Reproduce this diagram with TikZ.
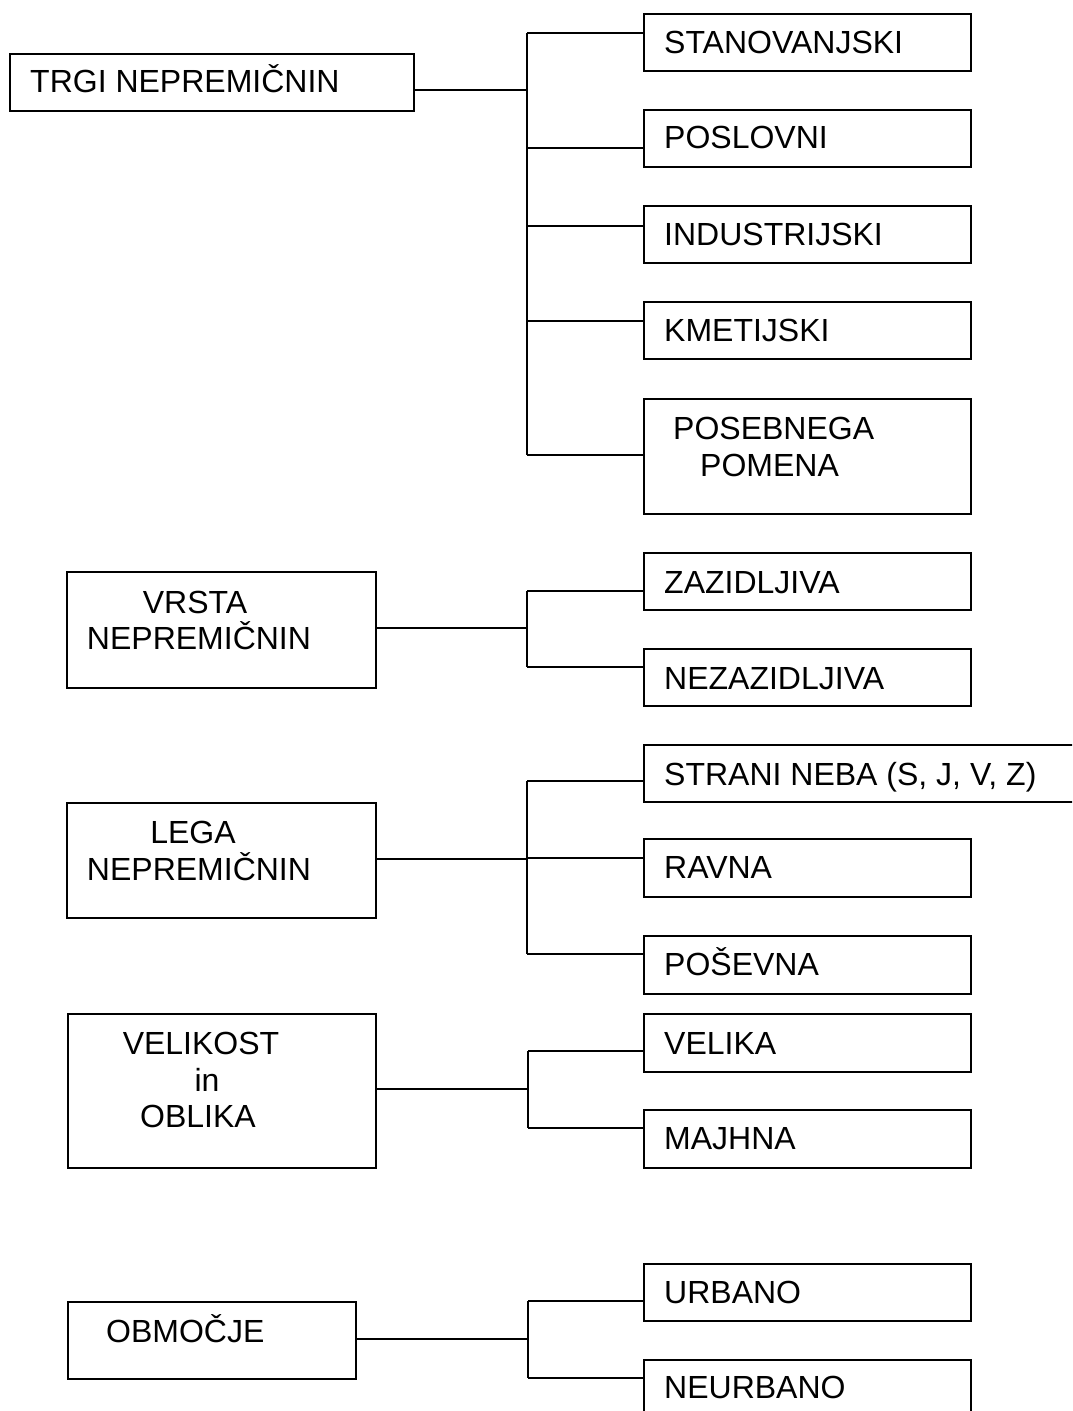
\documentclass[tikz,border=0pt]{standalone}
\usepackage{fontspec}
\setmainfont{Liberation Sans}
\newcommand\boxat[5]{%
  \node[box, anchor=north west, minimum width={#4-#2}, minimum height={#5-#3}] (#1) at (#2,#3) {};}
\begin{document}
\begin{tikzpicture}[x=1pt,y=-1pt,
  box/.style={draw, line width=1.5pt, inner sep=0pt},
  lbl/.style={inner sep=0pt, font=\fontsize{32}{37}\selectfont},
  wire/.style={line width=1.5pt}]
\fill[white] (0,0) rectangle (1072,1411);
\useasboundingbox (0,0) rectangle (1072,1411);
\clip (0,0) rectangle (1072,1411);

% category boxes on the left
\boxat{trgi}{9}{53}{413}{110}
\boxat{vrsta}{66}{571}{375}{687}
\boxat{lega}{66}{802}{375}{917}
\boxat{velik}{67}{1013}{375}{1167}
\boxat{obm}{67}{1301}{355}{1378}

% sub-category boxes on the right
\boxat{stan}{643}{13}{970}{70}
\boxat{posl}{643}{109}{970}{166}
\boxat{indu}{643}{205}{970}{262}
\boxat{kmet}{643}{301}{970}{358}
\boxat{poseb}{643}{398}{970}{513}
\boxat{zaz}{643}{552}{970}{609}
\boxat{nez}{643}{648}{970}{705}
\boxat{strani}{643}{744}{1100}{801}
\boxat{ravna}{643}{838}{970}{896}
\boxat{posev}{643}{935}{970}{993}
\boxat{velika}{643}{1013}{970}{1071}
\boxat{majhna}{643}{1109}{970}{1167}
\boxat{urb}{643}{1263}{970}{1320}
\boxat{neurb}{643}{1359}{970}{1440}

% texts of the left boxes
\node[lbl, anchor=base west] (trgi-t) at (30,92) {TRGI NEPREMIČNIN};
\node[lbl, anchor=base] (vrsta-t1) at (195,613) {VRSTA};
\node[lbl, anchor=base] (vrsta-t2) at (199,649) {NEPREMIČNIN};
\node[lbl, anchor=base] (lega-t1) at (193,843) {LEGA};
\node[lbl, anchor=base] (lega-t2) at (199,880) {NEPREMIČNIN};
\node[lbl, anchor=base] (velik-t1) at (201,1054) {VELIKOST};
\node[lbl, anchor=base] (velik-t2) at (207,1091) {in};
\node[lbl, anchor=base] (velik-t3) at (198,1127) {OBLIKA};
\node[lbl, anchor=base west] (obm-t) at (106,1342) {OBMOČJE};

% texts of the right boxes
\node[lbl, anchor=base west] (stan-t) at (664,53) {STANOVANJSKI};
\node[lbl, anchor=base west] (posl-t) at (664,148) {POSLOVNI};
\node[lbl, anchor=base west] (indu-t) at (664,245) {INDUSTRIJSKI};
\node[lbl, anchor=base west] (kmet-t) at (664,341) {KMETIJSKI};
\node[lbl, anchor=base west] (poseb-t1) at (673,439) {POSEBNEGA};
\node[lbl, anchor=base west] (poseb-t2) at (700,476) {POMENA};
\node[lbl, anchor=base west] (zaz-t) at (664,593) {ZAZIDLJIVA};
\node[lbl, anchor=base west] (nez-t) at (664,689) {NEZAZIDLJIVA};
\node[lbl, anchor=base west] (strani-t) at (664,785) {STRANI NEBA (S, J, V, Z)};
\node[lbl, anchor=base west] (ravna-t) at (664,878) {RAVNA};
\node[lbl, anchor=base west] (posev-t) at (664,975) {POŠEVNA};
\node[lbl, anchor=base west] (velika-t) at (664,1054) {VELIKA};
\node[lbl, anchor=base west] (majhna-t) at (664,1149) {MAJHNA};
\node[lbl, anchor=base west] (urb-t) at (664,1303) {URBANO};
\node[lbl, anchor=base west] (neurb-t) at (664,1398) {NEURBANO};

% junction points on the vertical trunks
\coordinate (g1) at (527,90);
\coordinate (g1a) at (527,33);
\coordinate (g1b) at (527,148);
\coordinate (g1c) at (527,226);
\coordinate (g1d) at (527,321);
\coordinate (g1e) at (527,455);

\coordinate (g2) at (527,628);
\coordinate (g2a) at (527,591);
\coordinate (g2b) at (527,667);

\coordinate (g3) at (527,859);
\coordinate (g3a) at (527,781);
\coordinate (g3b) at (527,858);
\coordinate (g3c) at (527,954);

\coordinate (g4) at (528,1089);
\coordinate (g4a) at (528,1051);
\coordinate (g4b) at (528,1128);

\coordinate (g5) at (528,1339);
\coordinate (g5a) at (528,1301);
\coordinate (g5b) at (528,1378);

% parent to trunk
\draw[wire] (trgi.east |- g1) -- (g1);
\draw[wire] (vrsta.east |- g2) -- (g2);
\draw[wire] (lega.east |- g3) -- (g3);
\draw[wire] (velik.east |- g4) -- (g4);
\draw[wire] (obm.east |- g5) -- (g5);

% trunks
\draw[wire] (g1a) -- (g1e);
\draw[wire] (g2a) -- (g2b);
\draw[wire] (g3a) -- (g3c);
\draw[wire] (g4a) -- (g4b);
\draw[wire] (g5a) -- (g5b);

% trunk to children
\foreach \c/\n in {g1a/stan, g1b/posl, g1c/indu, g1d/kmet, g1e/poseb,
                   g2a/zaz, g2b/nez,
                   g3a/strani, g3b/ravna, g3c/posev,
                   g4a/velika, g4b/majhna,
                   g5a/urb, g5b/neurb}
  \draw[wire] (\c) -- (\c -| \n.west);
\end{tikzpicture}
\end{document}
